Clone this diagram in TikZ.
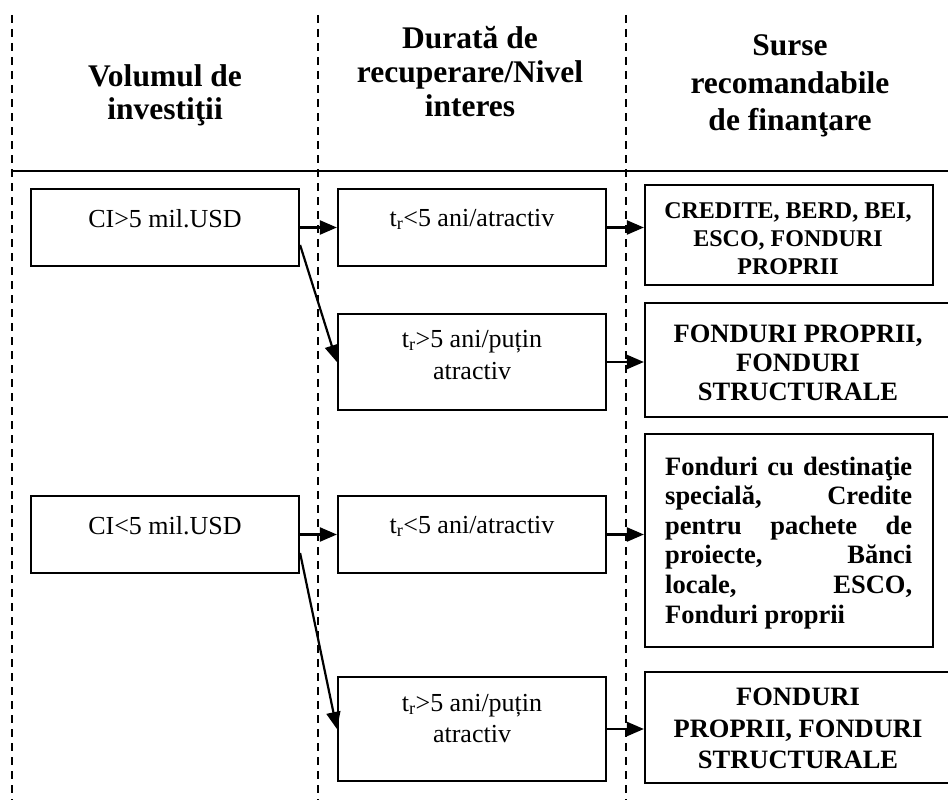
\documentclass[tikz,border=0pt]{standalone}
\usepackage{fontspec}
\setmainfont{Liberation Serif}
\usetikzlibrary{arrows.meta}

\begin{document}
\begin{tikzpicture}[x=1pt,y=-1pt,
  box/.style={draw=black, line width=2.2pt, rectangle, inner sep=0pt},
  guide/.style={line width=1.6pt, dash pattern=on 8pt off 6pt},
  link/.style={line width=2.2pt, -{Triangle[length=17pt,width=14pt]}},
  hd/.style={anchor=base, inner sep=0pt, font=\bfseries\fontsize{31.5}{36}\selectfont},
  tx/.style={anchor=base, inner sep=0pt, font=\fontsize{26}{30}\selectfont},
  bA/.style={anchor=base, inner sep=0pt, font=\bfseries\fontsize{24}{28}\selectfont},
  bB/.style={anchor=base, inner sep=0pt, font=\bfseries\fontsize{26.5}{30}\selectfont}]

\clip (0,0) rectangle (948,800);
\fill[white] (0,0) rectangle (948,800);

% column separators and header rule
\draw[guide] (12,15) -- (12,800);
\draw[guide] (318,15) -- (318,800);
\draw[guide] (626,15) -- (626,800);
\draw[line width=2.4pt] (12,171) -- (950,171);

% headers
\node[hd] (h1a) at (165,86)  {Volumul de};
\node[hd] (h1b) at (165,119) {investiţii};
\node[hd] (h2a) at (470,49)  {Durată de};
\node[hd] (h2b) at (470,83)  {recuperare/Nivel};
\node[hd] (h2c) at (470,117) {interes};
\node[hd] (h3a) at (790,56)  {Surse};
\node[hd] (h3b) at (790,93)  {recomandabile};
\node[hd] (h3c) at (790,130) {de finanţare};

% investment volume
\node[box, minimum width=268pt, minimum height=77pt] (b1) at (165,227.5) {};
\node[box, minimum width=268pt, minimum height=77pt] (b2) at (165,534.5) {};
\node[tx] (b1t) at (165,227) {CI>5 mil.USD};
\node[tx] (b2t) at (165,534) {CI<5 mil.USD};

% payback period / interest
\node[box, minimum width=268pt, minimum height=77pt]  (c1) at (472,227.5) {};
\node[box, minimum width=268pt, minimum height=96pt]  (c2) at (472,362) {};
\node[box, minimum width=268pt, minimum height=77pt]  (c3) at (472,534.5) {};
\node[box, minimum width=268pt, minimum height=104pt] (c4) at (472,729) {};
\node[tx] (c1t)  at (472,226) {t\textsubscript{r}<5 ani/atractiv};
\node[tx] (c2ta) at (472,347) {t\textsubscript{r}>5 ani/puțin};
\node[tx] (c2tb) at (472,379) {atractiv};
\node[tx] (c3t)  at (472,533) {t\textsubscript{r}<5 ani/atractiv};
\node[tx] (c4ta) at (472,711) {t\textsubscript{r}>5 ani/puțin};
\node[tx] (c4tb) at (472,742) {atractiv};

% recommended funding sources
\node[box, minimum width=288pt, minimum height=100pt] (sA) at (789,235) {};
\node[box, minimum width=307pt, minimum height=114pt] (sB) at (798.5,360) {};
\node[box, minimum width=288pt, minimum height=213pt] (sC) at (789,540.5) {};
\node[box, minimum width=307pt, minimum height=111pt] (sD) at (798.5,727.5) {};

\node[bA] (sA1) at (788,218) {CREDITE, BERD, BEI,};
\node[bA] (sA2) at (788,246) {ESCO, FONDURI};
\node[bA] (sA3) at (788,274) {PROPRII};

\node[bB] (sB1) at (798,342) {FONDURI PROPRII,};
\node[bB] (sB2) at (798,371) {FONDURI};
\node[bB] (sB3) at (798,400) {STRUCTURALE};

\node[bB, anchor=base west] (sC1) at (665,475)   {\hbox to 247pt{Fonduri\hfill cu\hfill destinaţie}};
\node[bB, anchor=base west] (sC2) at (665,504.6) {\hbox to 247pt{specială,\hfill Credite}};
\node[bB, anchor=base west] (sC3) at (665,534.2) {\hbox to 247pt{pentru\hfill pachete\hfill de}};
\node[bB, anchor=base west] (sC4) at (665,563.8) {\hbox to 247pt{proiecte,\hfill Bănci}};
\node[bB, anchor=base west] (sC5) at (665,593.4) {\hbox to 247pt{locale,\hfill ESCO,}};
\node[bB, anchor=base west] (sC6) at (665,623)   {Fonduri proprii};

\node[bB] (sD1) at (798,705) {FONDURI};
\node[bB] (sD2) at (798,737) {PROPRII, FONDURI};
\node[bB] (sD3) at (798,768) {STRUCTURALE};

% connectors
\coordinate (d1) at ([yshift=-17.5pt]b1.east);
\coordinate (d2) at ([yshift=-18.5pt]b2.east);
\draw[link] (b1.east) -- (c1.west);
\draw[link] (d1) -- (c2.west);
\draw[link] (b2.east) -- (c3.west);
\draw[link] (d2) -- (c4.west);
\draw[link] (c1.east) -- (c1.east -| sA.west);
\draw[link] (c2.east) -- (c2.east -| sB.west);
\draw[link] (c3.east) -- (c3.east -| sC.west);
\draw[link] (c4.east) -- (c4.east -| sD.west);
\end{tikzpicture}
\end{document}
